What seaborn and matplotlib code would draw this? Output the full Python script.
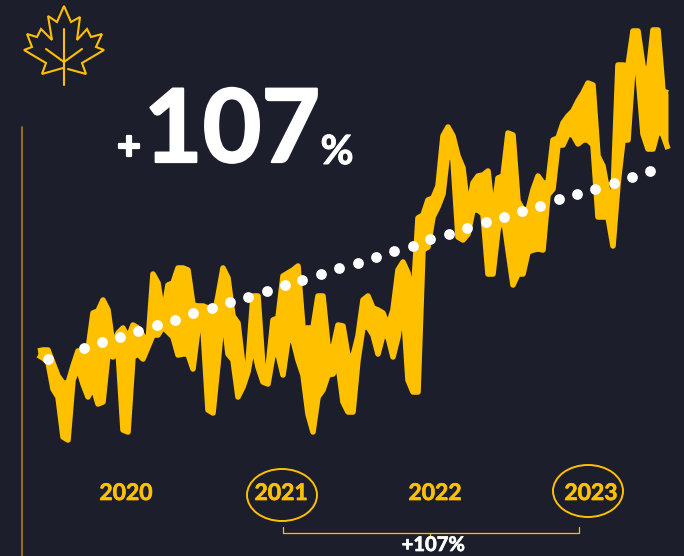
import matplotlib
matplotlib.use("Agg")
import matplotlib.pyplot as plt
import matplotlib.patheffects as pe
from matplotlib.patches import Ellipse
import seaborn as sns

# in picture units (y grows downwards)
# the line swings hard inside each step, so each step keeps its two extremes
step_x = [38, 43, 48, 53, 58, 63, 68, 73, 78, 83, 88, 93, 98, 103, 108, 113, 118, 123, 128, 133, 138, 143,
          148, 153, 158, 163, 168, 173, 178, 183, 188, 193, 198, 203, 208, 213, 218, 223, 228, 233, 238, 243,
          248, 253, 258, 263, 268, 273, 278, 283, 288, 293, 298, 303, 308, 313, 318, 323, 328, 333, 338, 343,
          348, 353, 358, 363, 368, 373, 378, 383, 388, 393, 398, 403, 408, 413, 418, 423, 428, 433, 438, 443,
          448, 453, 458, 463, 468, 473, 478, 483, 488, 493, 498, 503, 508, 513, 518, 523, 528, 533, 538, 543,
          548, 553, 558, 563, 568, 573, 578, 583, 588, 593, 598, 603, 608, 613, 618, 623, 628, 633, 638, 643,
          648, 653, 658, 663, 668]
step_high = [351, 350, 350, 363, 376, 383, 383, 366, 351, 351, 350, 313, 311, 300, 310, 346, 333, 328, 338, 325, 328, 336,
             343, 274, 283, 315, 285, 283, 268, 268, 270, 305, 306, 306, 308, 320, 296, 268, 278, 316, 323, 366,
             363, 296, 296, 368, 368, 320, 318, 276, 273, 270, 266, 328, 328, 328, 296, 296, 346, 348, 325, 326,
             356, 356, 336, 300, 296, 308, 310, 313, 326, 310, 270, 262, 273, 300, 218, 215, 200, 198, 186, 136,
             127, 136, 156, 168, 211, 183, 176, 175, 171, 216, 178, 176, 133, 135, 201, 210, 210, 190, 176, 183,
             183, 140, 138, 123, 116, 111, 101, 93, 83, 85, 156, 166, 193, 195, 65, 65, 66, 31, 31, 66,
             76, 30, 30, 91, 93]
step_low = [355, 358, 362, 389, 397, 437, 440, 380, 367, 384, 397, 387, 404, 402, 354, 357, 350, 430, 432, 357, 354, 359,
            347, 335, 335, 327, 332, 337, 355, 354, 354, 369, 329, 329, 410, 413, 364, 310, 354, 360, 397, 387,
            372, 344, 367, 382, 384, 355, 354, 375, 340, 340, 360, 375, 414, 432, 397, 390, 375, 374, 364, 402,
            412, 412, 360, 327, 327, 335, 354, 335, 337, 357, 337, 304, 380, 392, 392, 250, 247, 217, 207, 194,
            150, 160, 237, 240, 234, 210, 210, 214, 274, 274, 230, 214, 250, 285, 274, 274, 252, 250, 249, 250,
            195, 189, 145, 145, 134, 135, 144, 140, 140, 145, 217, 217, 217, 246, 184, 140, 140, 67, 74, 134,
            149, 149, 130, 135, 149]

trend_x = [48, 84, 102, 120, 138, 157, 175, 193, 212, 230, 248, 267, 285, 302, 321, 339, 358, 376, 394,
           413, 430, 449, 467, 486, 504, 522, 540, 559, 577, 595, 614, 632, 650]
trend_y = [359, 348, 342, 337, 331, 325, 320, 313, 308, 302, 297, 291, 285, 280, 274, 268, 263, 257, 251,
           246, 239, 234, 228, 222, 217, 211, 206, 199, 194, 189, 183, 177, 171]

years = ["2020", "2021", "2022", "2023"]
year_x = [126, 281, 435, 591]

leaf_x = [68, 86, 82, 104, 96, 102, 91, 87, 77, 80, 71, 64, 57, 48, 52, 41, 37, 27, 32, 24, 46, 42, 63]
leaf_y = [69, 74, 63, 50, 47, 34, 37, 29, 40, 17, 22, 6, 22, 16, 40, 29, 37, 34, 47, 50, 63, 74, 68]

GOLD = "#FFC000"
BG = "#1C1E2B"

sns.set_theme(style="white")
plt.rcParams['font.family'] = ['Lato', 'DejaVu Sans']

fig = plt.figure(figsize=(6.84, 5.56), dpi=100, facecolor=BG)
ax = fig.add_axes([0, 0, 1, 1])
ax.set_facecolor(BG)

# thick band between the two extremes
ax.fill_between(step_x, step_high, step_low, color=GOLD, linewidth=0)
for series in [step_high, step_low]:
    sns.lineplot(x=step_x, y=series, sort=False, estimator=None, color=GOLD, linewidth=4,
                 solid_capstyle='butt', solid_joinstyle='round', ax=ax)
sns.scatterplot(x=trend_x, y=trend_y, color='white', s=60, linewidth=0, zorder=5, ax=ax)

ax.set_xlim(0, 684)
ax.set_ylim(556, 0)
ax.axis('off')

# left rule
ax.plot([22, 22], [127, 556], color='#A9840F', lw=1.2)

# maple leaf
ax.plot(leaf_x, leaf_y, color=GOLD, lw=1.5, solid_joinstyle='miter')
ax.plot([64, 64], [29, 85], color=GOLD, lw=1.5)
ax.plot([46, 64, 82], [49, 62, 49], color=GOLD, lw=1.5)

# headline, fattened a bit since Lato bold is lighter than the original face
fat = [pe.withStroke(linewidth=1.6, foreground='white')]
ax.text(129, 148, "+", color='white', fontsize=30, fontweight='bold', ha='center', va='center', path_effects=fat)
ax.text(232, 162, "107", color='white', fontsize=73, fontweight='bold', ha='center', va='baseline', path_effects=fat)
ax.text(337, 164, "%", color='white', fontsize=29, fontweight='bold', ha='center', va='baseline',
        path_effects=[pe.withStroke(linewidth=0.7, foreground='white')])

gold_fat = [pe.withStroke(linewidth=0.5, foreground=GOLD)]
for year, x in zip(years, year_x):
    ax.text(x, 500, year, color=GOLD, fontsize=16.5, fontweight='bold', ha='center', va='baseline',
            path_effects=gold_fat)

ax.add_patch(Ellipse((282, 495), 70, 52, fill=False, edgecolor=GOLD, lw=1.4))
ax.add_patch(Ellipse((588, 491), 70, 52, fill=False, edgecolor=GOLD, lw=1.4))

# bracket under the years
ax.plot([283, 283, 579, 579], [527, 533, 533, 527], color=GOLD, lw=0.9)
ax.plot([430, 430], [533, 537], color=GOLD, lw=0.9)
ax.text(433, 551, "+107%", color='white', fontsize=14.5, fontweight='bold', ha='center', va='baseline',
        path_effects=[pe.withStroke(linewidth=0.5, foreground='white')])

fig.savefig("out.png", dpi=100, facecolor=BG)
